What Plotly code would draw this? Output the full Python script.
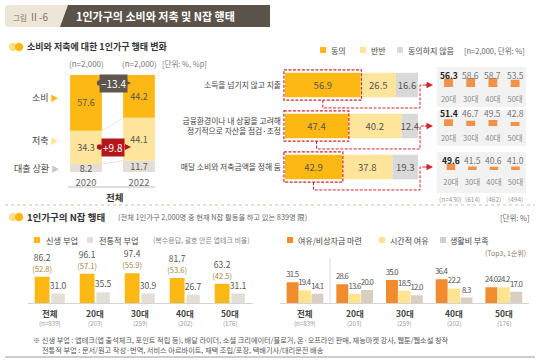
import numpy as np
import plotly.graph_objects as go

W, H = 540, 361
FONT = "Noto Sans CJK KR, Noto Sans, sans-serif"


def px(x):
    return x / W


def py(y):
    return 1 - y / H


# ---------------- data ----------------
years = ["2020", "2022"]
year_n = ["(n=2,000)", "(n=2,000)"]
spend = [57.6, 44.2]
save = [34.3, 44.1]
loan = [8.2, 11.7]
row_names = ["소비", "저축", "대출 상환"]

statements = [
    "소득을 넘기지 않고 지출",
    "금융환경이나 내 상황을 고려해<br>정기적으로 자산을 점검·조정",
    "매달 소비와 저축금액을 정해 둠",
]
agree = [56.9, 47.4, 42.9]
half = [26.5, 40.2, 37.8]
disagree = [16.6, 12.4, 19.3]
resp_labels = ["동의", "반반", "동의하지 않음"]

ages = ["20대", "30대", "40대", "50대"]
age_n = ["(n=430)", "(614)", "(462)", "(494)"]
agree_age_1 = [56.3, 58.6, 58.7, 53.5]
agree_age_2 = [51.4, 46.7, 49.5, 42.8]
agree_age_3 = [49.6, 41.5, 40.6, 41.0]

groups = ["전체", "20대", "30대", "40대", "50대"]
group_n = ["(n=839)", "(203)", "(259)", "(202)", "(176)"]
new_side = [86.2, 96.1, 97.4, 81.7, 63.2]
apptech = [52.8, 57.1, 55.9, 53.6, 42.5]
trad_side = [31.0, 35.5, 30.9, 26.7, 31.1]
side_labels = ["신생 부업", "전통적 부업"]

reason_fund = [31.5, 28.6, 35.0, 36.4, 24.0]
reason_time = [19.4, 13.6, 18.5, 22.2, 24.2]
reason_cost = [14.1, 20.0, 12.0, 8.3, 17.0]
reason_labels = ["여유/비상자금 마련", "시간적 여유", "생활비 부족"]

# ---------------- colours ----------------
C_OR = "#FDB813"
C_LY = "#FFE59B"
C_GR = "#D9D9D9"
C_LOAN = "#E4DFD6"
C_MINI = "#F0924A"
C_R_OR = "#F08C2E"
C_R_YE = "#FFE48F"
C_R_BE = "#D8CFC2"
C_TXT = "#555555"
RED = "#D4262C"

fig = go.Figure()
common = dict(hoverinfo="skip", showlegend=False)

# ---- left stacked (2020 vs 2022) ----
loan_a, save_a, spend_a = map(np.array, (loan, save, spend))
for vals, base, col in [(loan_a, np.zeros(2), C_LOAN), (save_a, loan_a, C_LY), (spend_a, loan_a + save_a, C_OR)]:
    fig.add_trace(go.Bar(
        x=years, y=vals, base=base, width=0.6, marker=dict(color=col, line=dict(width=0)),
        text=[f"{v:.1f}" for v in vals], textposition="inside", insidetextanchor="middle",
        textangle=0, constraintext="none", textfont=dict(family=FONT, size=9, color=C_TXT),
        xaxis="x", yaxis="y", **common))

# ---- right horizontal stacked ----
rows = np.arange(len(statements))
ag, hf, dg = map(np.array, (agree, half, disagree))
for vals, base, col in [(ag, np.zeros(3), C_OR), (hf, ag, C_LY), (dg, ag + hf, C_GR)]:
    fig.add_trace(go.Bar(
        y=rows, x=vals, base=base, orientation="h", width=0.6, marker=dict(color=col, line=dict(width=0)),
        text=[f"{v:.1f}" for v in vals], textposition="inside", insidetextanchor="middle",
        textangle=0, constraintext="none", textfont=dict(family=FONT, size=9.5, color=C_TXT),
        xaxis="x2", yaxis="y2", **common))

# ---- mini panels ----
mini = [agree_age_1, agree_age_2, agree_age_3]
for p, vals in enumerate(mini):
    fig.add_trace(go.Bar(x=ages, y=vals, width=0.4, marker=dict(color=C_MINI, line=dict(width=0)),
                         xaxis=f"x{3 + p}", yaxis=f"y{3 + p}", **common))

# ---- bottom-left grouped ----
gi = np.arange(len(groups))
fig.add_trace(go.Bar(
    x=gi, y=new_side, offset=-0.34, width=0.33, marker=dict(color=C_OR, line=dict(width=0)),
    text=[f"{v:.1f}<br><span style='font-size:7.5px;color:#A88348'>({a:.1f})</span>" for v, a in zip(new_side, apptech)],
    textposition="outside", constraintext="none", cliponaxis=False,
    textfont=dict(family=FONT, size=8.5, color=C_TXT), xaxis="x6", yaxis="y6", **common))
fig.add_trace(go.Bar(
    x=gi, y=trad_side, offset=0.03, width=0.30, marker=dict(color=C_LOAN, line=dict(width=0)),
    text=[f"{v:.1f}" for v in trad_side], textposition="outside", constraintext="none", cliponaxis=False,
    textfont=dict(family=FONT, size=8.5, color=C_TXT), xaxis="x6", yaxis="y6", **common))

# ---- bottom-right grouped ----
for vals, off, col in [(reason_fund, -0.375, C_R_OR), (reason_time, -0.125, C_R_YE), (reason_cost, 0.125, C_R_BE)]:
    fig.add_trace(go.Bar(
        x=gi, y=vals, offset=off, width=0.24, marker=dict(color=col, line=dict(width=0)),
        text=[f"<span style='letter-spacing:-0.75px'>{v:.1f}</span>" for v in vals],
        textposition="outside", constraintext="none", cliponaxis=False,
        textfont=dict(family=FONT, size=7.8, color=C_TXT), xaxis="x7", yaxis="y7", **common))


# ---------------- axes ----------------
def xa(a, b, **kw):
    d = dict(domain=[px(a), px(b)], showgrid=False, zeroline=False, showline=False, ticks="",
             fixedrange=True, automargin=False, tickfont=dict(family=FONT, size=8, color="#666"))
    d.update(kw)
    return d


def ya(top, bottom, **kw):
    d = dict(domain=[py(bottom), py(top)], showgrid=False, zeroline=False, showline=False, ticks="",
             fixedrange=True, automargin=False, tickfont=dict(family=FONT, size=8, color="#444"))
    d.update(kw)
    return d


layout_axes = dict(
    xaxis=xa(59.5, 165.5, type="category", range=[-0.5, 1.5], anchor="y",
             tickfont=dict(family=FONT, size=9.5, color="#666"), ticklabelstandoff=3),
    yaxis=ya(75, 172, range=[0, 100], visible=False, anchor="x"),
    xaxis2=xa(283, 436, range=[-1.5, 113.5], visible=False, anchor="y2"),
    yaxis2=ya(64.5, 195.7, range=[2.7, -0.5], tickvals=list(rows), ticktext=statements, anchor="x2",
              ticklabelstandoff=1, tickfont=dict(family=FONT, size=7.8, color="#444")),
    xaxis6=xa(27.5, 252.5, range=[-0.5, 4.5], showticklabels=False, showline=True,
              linecolor="#d4d4d4", linewidth=1, anchor="y6"),
    yaxis6=ya(272.5, 303, range=[0, 100], visible=False, anchor="x6"),
    xaxis7=xa(280.4, 528.9, range=[-0.5, 4.5], showticklabels=False, showline=True,
              linecolor="#d4d4d4", linewidth=1, anchor="y7"),
    yaxis7=ya(270.25, 303, range=[0, 50], visible=False, anchor="x7"),
)
mini_base = [87, 126, 170]
for p, b in enumerate(mini_base):
    layout_axes[f"xaxis{3 + p}"] = xa(437.4, 526.2, type="category", anchor=f"y{3 + p}",
                                      tickfont=dict(family=FONT, size=7.5, color="#8a8a8a"),
                                      ticklabelstandoff=6)
    layout_axes[f"yaxis{3 + p}"] = ya(b - 10, b, range=[30, 62], visible=False, anchor=f"x{3 + p}")

# ---------------- shapes ----------------
shapes = []


def prect(x0, y0, x1, y1, color, layer="below", **kw):
    shapes.append(dict(type="rect", xref="paper", yref="paper", x0=px(x0), x1=px(x1), y0=py(y1), y1=py(y0),
                       fillcolor=color, line=dict(width=0), layer=layer, **kw))


def pline(x0, y0, x1, y1, color, width=1, dash="solid"):
    shapes.append(dict(type="line", xref="paper", yref="paper", x0=px(x0), x1=px(x1), y0=py(y0), y1=py(y1),
                       line=dict(color=color, width=width, dash=dash)))


def pcircle(cx, cy, r, color):
    shapes.append(dict(type="circle", xref="paper", yref="paper", x0=px(cx - r), x1=px(cx + r),
                       y0=py(cy + r), y1=py(cy - r), fillcolor=color, line=dict(width=0)))


# header
shapes.append(dict(type="path", xref="paper", yref="paper",
                   path=f"M {px(9)},{py(5)} L {px(70)},{py(5)} L {px(70)},{py(27)} L {px(9)},{py(27)} "
                        f"Q {px(5)},{py(27)} {px(5)},{py(23)} L {px(5)},{py(9)} Q {px(5)},{py(5)} {px(9)},{py(5)} Z",
                   fillcolor="#ECE5D8", line=dict(width=0)))
shapes.append(dict(type="path", xref="paper", yref="paper",
                   path=f"M {px(68)},{py(5)} L {px(270)},{py(5)} L {px(270)},{py(27)} L {px(60)},{py(27)} Z",
                   fillcolor="#5B5249", line=dict(width=0)))
# section title dots
for cy in (47, 217):
    pcircle(13, cy, 4.3, "#FFE08A")
    pcircle(19, cy, 4.3, C_OR)

# connectors between stacked bars (left)
c1 = loan_a + save_a
shapes.append(dict(type="line", xref="x", yref="y", x0=0.3, x1=0.7, y0=c1[0], y1=c1[1],
                   line=dict(color="#dcdcdc", width=0.8)))
shapes.append(dict(type="line", xref="x", yref="y", x0=0.3, x1=0.7, y0=loan_a[0], y1=loan_a[1],
                   line=dict(color="#dcdcdc", width=0.8)))
pline(68, 187, 155, 187, "#bdbdbd", 1)

# mini panel backgrounds
for (t, b) in [(67, 107), (110, 146), (152, 193)]:
    prect(437, t, 526, b, "#F2F2F2")

# red dashed boxes & connectors
for i, a in enumerate(agree):
    shapes.append(dict(type="rect", xref="x2", yref="y2", x0=-0.8, x1=a + 0.6, y0=i - 0.37, y1=i + 0.37,
                       line=dict(color=RED, width=1.2, dash="3px,1.5px"), layer="above"))
    xm = a / 2
    shapes.append(dict(type="path", xref="x2", yref="y2",
                       path=f"M {xm},{i + 0.37} L {xm},{i + 0.56} L 101.5,{i + 0.56} L 101.5,{i} L 108,{i}",
                       line=dict(color=RED, width=1, dash="3px,1.5px")))

# separators
pline(5, 205, 535, 205, "#CFC2AA", 1, "dot")
pline(5, 357, 535, 357, "#9a9a9a", 1)
shapes.append(dict(type="line", xref="x7", yref="paper", x0=0.5, x1=0.5, y0=py(303), y1=py(258),
                   line=dict(color="#dddddd", width=1)))

# legend squares
for x0, col in [(320, C_OR), (360, C_LY), (397, C_GR)]:
    prect(x0, 47, x0 + 6, 53, col)
for x0, col in [(34, C_OR), (87, C_LOAN)]:
    prect(x0, 237, x0 + 6, 243, col)
for x0, col in [(287, C_R_OR), (379, C_R_YE), (440, C_R_BE)]:
    prect(x0, 237, x0 + 6, 243, col)

# ---------------- annotations ----------------
anns = []


def ann(x, y, text, size=8, color="#444", xanchor="left", yanchor="middle", **kw):
    d = dict(xref="paper", yref="paper", x=px(x), y=py(y), text=text, showarrow=False,
             font=dict(family=FONT, size=size, color=color), xanchor=xanchor, yanchor=yanchor)
    d.update(kw)
    anns.append(d)


ann(11, 16, "<span style='font-size:7.5px'>그림</span> Ⅱ-6", size=10, color="#8B785C")
ann(74, 16, "<b>1인가구의 소비와 저축 및 N잡 행태</b>", size=11, color="white")

ann(25, 47, "<b>소비와 저축에 대한 1인가구 행태 변화</b>", size=9, color="#333")
for k, n in enumerate(year_n):
    anns.append(dict(xref="x", yref="paper", x=k, y=py(64), text=n, showarrow=False,
                     font=dict(family=FONT, size=8, color="#777"), xanchor="center", yanchor="middle"))
ann(160, 64, "[단위: %, %p]", size=7.5, color="#777")
tri_cols = [C_OR, C_LY, "#CFC8BC"]
for name, yy, tc in zip(row_names, [97, 140, 168], tri_cols):
    ann(61, yy, f"{name} <span style='color:{tc};font-size:8px'>▶</span>", size=9, color="#444",
        xanchor="right")
ann(114, 197, "<b>전체</b>", size=9.5, color="#333", xanchor="center")

# change badges
d_spend = spend[1] - spend[0]
d_save = save[1] - save[0]
for d, yy, col in [(d_spend, 83, "#5E5750"), (d_save, 147, "#B4161C")]:
    anns.append(dict(xref="paper", yref="paper", x=px(131), y=py(yy), ax=-33, ay=0, text="",
                     showarrow=True, arrowhead=2, arrowsize=1, arrowwidth=1.2, arrowcolor=col,
                     arrowside="end+start", startarrowhead=6, startarrowsize=1.1))
    ann(113, yy, f"{d:+.1f}".replace("-", "−"), size=10, color="white", xanchor="center",
        bgcolor=col, borderpad=1)

# right legend
for x0, t in zip([329, 369, 406], resp_labels):
    ann(x0, 50, t, size=8, color="#444")
ann(462, 50, "[n=2,000, 단위: %]", size=7.5, color="#666")

# arrows into panels
for i in rows:
    anns.append(dict(xref="x2", yref="y2", x=111.3, y=int(i), ax=-9, ay=0, text="", showarrow=True,
                     arrowhead=2, arrowsize=1, arrowwidth=1.3, arrowcolor=RED))

# mini panel values
val_y = [75, 113, 160]
for p, vals in enumerate(mini):
    for j, (a, v) in enumerate(zip(ages, vals)):
        txt = f"<b>{v:.1f}</b>" if j == 0 else f"{v:.1f}"
        anns.append(dict(xref=f"x{3 + p}", yref="paper", x=j, y=py(val_y[p]), text=txt, showarrow=False,
                         font=dict(family=FONT, size=8.5, color="#222" if j == 0 else "#777"),
                         xanchor="center", yanchor="middle"))
for j, n in enumerate(age_n):
    anns.append(dict(xref="x5", yref="paper", x=j, y=py(199), text=n, showarrow=False,
                     font=dict(family=FONT, size=6.5, color="#999"), xanchor="center", yanchor="middle"))

# section 2
ann(25, 217, "<b>1인가구의 N잡 행태</b>", size=9.5, color="#333")
ann(116, 217, "(전체 1인가구 2,000명 중 현재 N잡 활동을 하고 있는 839명 限)", size=7.3, color="#666")
ann(532, 217, "[단위: %]", size=7.5, color="#666", xanchor="right")

ann(44, 240, side_labels[0], size=8.2, color="#444")
ann(97, 240, side_labels[1], size=8.2, color="#444")
ann(151, 240, "(복수응답, 괄호 안은 앱테크 비율)", size=7, color="#888")

for x0, t in zip([296, 388, 448], reason_labels):
    ann(x0, 240, t, size=8, color="#444")
ann(528, 253, "(Top3, 1순위)", size=7, color="#8C7B66", xanchor="right")

for ax_id in ("x6", "x7"):
    for i, (g, n) in enumerate(zip(groups, group_n)):
        anns.append(dict(xref=ax_id, yref="paper", x=i, y=py(313), text=f"<b>{g}</b>", showarrow=False,
                         font=dict(family=FONT, size=8.5, color="#444"), xanchor="center", yanchor="middle",
                         borderpad=0))
        anns.append(dict(xref=ax_id, yref="paper", x=i, y=py(323.5), text=n, showarrow=False,
                         font=dict(family=FONT, size=6.2, color="#999"), xanchor="center", yanchor="middle",
                         borderpad=0))

ann(31, 340, "※ 신생 부업 : 앱테크(앱 출석체크, 포인트 적립 등), 배달 라이더, 소셜 크리에이터/블로거, "
             "온·오프라인 판매, 재능마켓 강사, 웹툰/웹소설 창작", size=7.2, color="#555")
ann(40, 350, "전통적 부업 : 문서/원고 작성·번역, 서비스 아르바이트, 재택 조립/포장, 택배기사/대리운전 배송",
    size=7.2, color="#555")

fig.update_layout(
    width=W, height=H, margin=dict(l=0, r=0, t=0, b=0, autoexpand=False),
    paper_bgcolor="white", plot_bgcolor="rgba(0,0,0,0)",
    barmode="overlay", showlegend=False,
    font=dict(family=FONT, size=8, color="#444"),
    shapes=shapes, annotations=anns,
    **layout_axes,
)

fig.write_html("out.html", include_plotlyjs=True, config={"displayModeBar": False},
               post_script="document.body.style.margin='0px';document.body.style.padding='0px';")
